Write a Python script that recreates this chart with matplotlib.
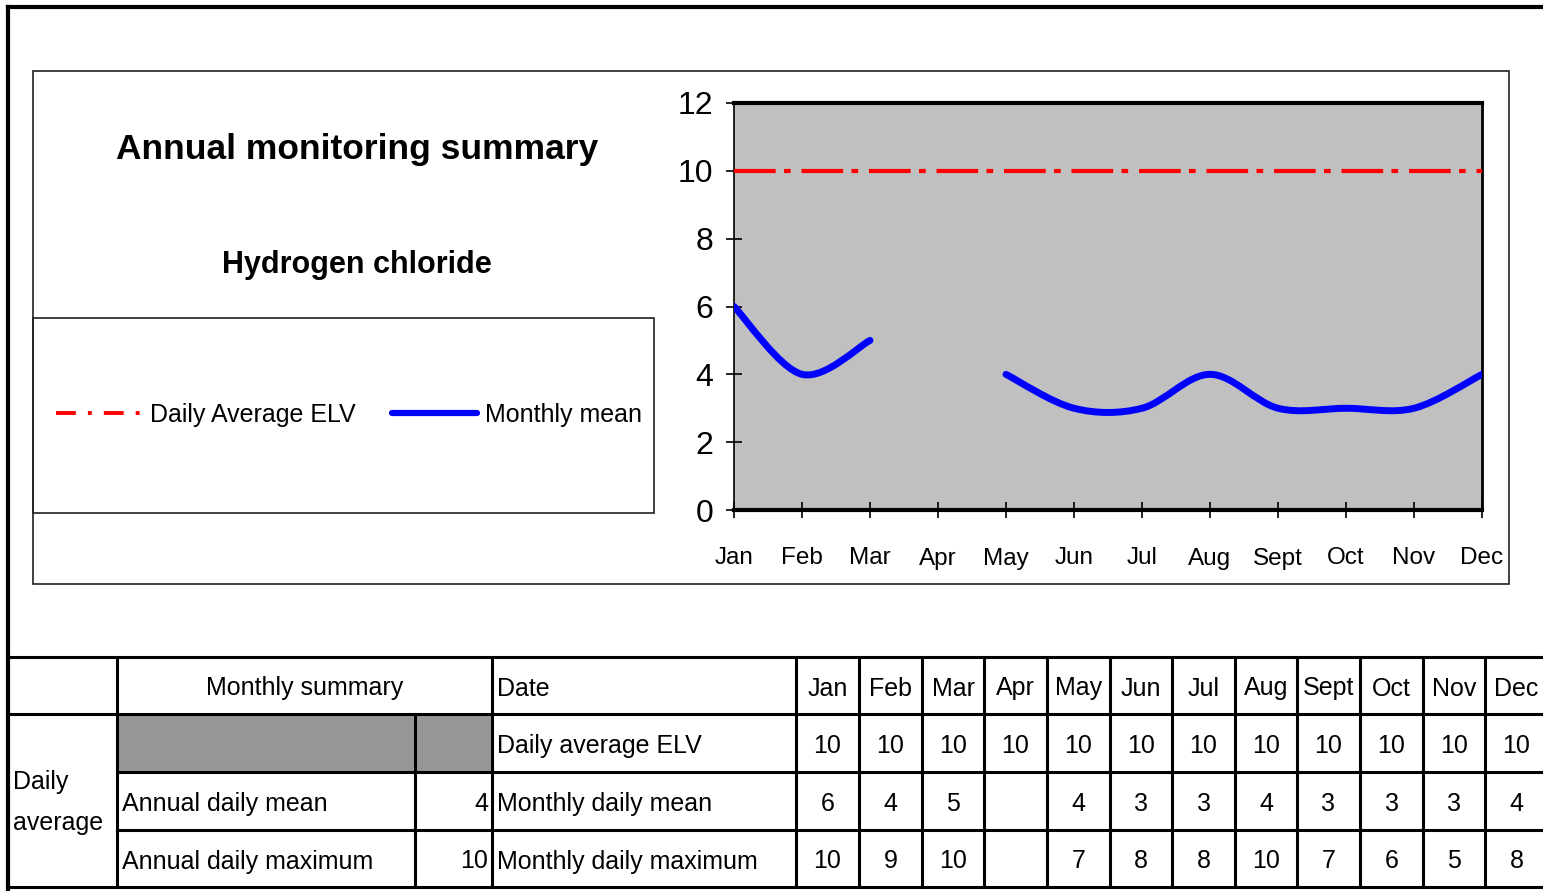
import numpy as np
import matplotlib
matplotlib.use("Agg")
import matplotlib.pyplot as plt
from matplotlib.path import Path
from matplotlib.patches import PathPatch, Rectangle
from matplotlib.lines import Line2D

# Arial-like metrics (no narrow face is installed)
FONT = ['Liberation Sans', 'DejaVu Sans']
plt.rcParams['font.family'] = FONT

# data
months = ['Jan', 'Feb', 'Mar', 'Apr', 'May', 'Jun', 'Jul', 'Aug', 'Sept', 'Oct', 'Nov', 'Dec']
daily_elv = [10, 10, 10, 10, 10, 10, 10, 10, 10, 10, 10, 10]
monthly_mean = [6, 4, 5, np.nan, 4, 3, 3, 4, 3, 3, 3, 4]
monthly_max = [10, 9, 10, np.nan, 7, 8, 8, 10, 7, 6, 5, 8]
annual_daily_mean = 4
annual_daily_max = 10

W, H = 1543, 891
fig = plt.figure(figsize=(W / 100, H / 100), dpi=100)

# background layer in pixel coordinates (frames, titles, table)
bg = fig.add_axes([0, 0, 1, 1])
bg.set_xlim(0, W)
bg.set_ylim(H, 0)
bg.axis('off')


def hline(y, x0, x1, lw=2.2, color='black'):
    bg.plot([x0, x1], [y, y], color=color, lw=lw, solid_capstyle='projecting')


def vline(x, y0, y1, lw=2.2, color='black'):
    bg.plot([x, x], [y0, y1], color=color, lw=lw, solid_capstyle='projecting')


# outer frame
hline(7, 8, W + 5, lw=3.0)
vline(8, 7, H + 5, lw=3.0)

# chart area box and legend box
bg.add_patch(Rectangle((33, 71), 1476, 513, fill=False, lw=1.2, edgecolor='#202020'))
bg.add_patch(Rectangle((33, 318), 621, 195, fill=False, lw=1.2, edgecolor='#202020'))

bg.text(357, 149, 'Annual monitoring summary', ha='center', va='center',
        fontsize=25.5, fontweight='bold')
bg.text(357, 265, 'Hydrogen chloride', ha='center', va='center',
        fontsize=22, fontweight='bold')

# chart
ax = fig.add_axes([734 / W, 1 - 510 / H, 748 / W, 407 / H])
ax.set_facecolor('#C0C0C0')
x = np.arange(len(months))
ax.set_xlim(0, len(months) - 1)
ax.set_ylim(0, 12)
ax.set_yticks(range(0, 13, 2))
ax.set_xticks(x)
ax.set_xticklabels(months)
ax.tick_params(direction='inout', length=12, width=1.2, color='black')
ax.tick_params(axis='y', labelsize=23, pad=9)
ax.tick_params(axis='x', labelsize=17.5, pad=21)
ax.spines['top'].set_linewidth(3)
ax.spines['bottom'].set_linewidth(3)
ax.spines['left'].set_linewidth(1.2)
ax.spines['right'].set_linewidth(2)

ax.plot(x, daily_elv, color='red', lw=3, dashes=(10, 2, 1.6, 2.6), zorder=3)


# smoothed line (Excel style bezier), broken where data is missing
def smooth_path(xs, ys):
    verts = [(xs[0], ys[0])]
    codes = [Path.MOVETO]
    n = len(xs)
    for i in range(n - 1):
        i0 = i - 1 if i > 0 else i
        i3 = i + 2 if i + 2 < n else i + 1
        c1 = (xs[i] + (xs[i + 1] - xs[i0]) / 6, ys[i] + (ys[i + 1] - ys[i0]) / 6)
        c2 = (xs[i + 1] - (xs[i3] - xs[i]) / 6, ys[i + 1] - (ys[i3] - ys[i]) / 6)
        verts += [c1, c2, (xs[i + 1], ys[i + 1])]
        codes += [Path.CURVE4] * 3
    return Path(verts, codes)


def draw_segment(idx):
    if len(idx) > 1:
        ax.add_patch(PathPatch(smooth_path(x[idx], mean_arr[idx]), fill=False,
                               edgecolor='#0000FF', lw=5, capstyle='round',
                               joinstyle='round', zorder=4))


mean_arr = np.array(monthly_mean, dtype=float)
seg = []
for i, v in enumerate(mean_arr):
    if np.isnan(v):
        draw_segment(seg)
        seg = []
    else:
        seg.append(i)
draw_segment(seg)

# legend
handles = [
    Line2D([], [], color='red', lw=2.8, dashes=(5.1, 3.1, 1.0, 3.1)),
    Line2D([], [], color='#0000FF', lw=4.5, solid_capstyle='round'),
]
ax.legend(handles, ['Daily Average ELV', 'Monthly mean'], loc='center left',
          bbox_to_anchor=(56 / W, 1 - 415 / H), bbox_transform=fig.transFigure,
          ncol=2, frameon=False, fontsize=18, handlelength=3.4,
          handletextpad=0.35, columnspacing=1.45, borderpad=0, borderaxespad=0)

# summary table
col_x = [8, 117, 415, 492, 796, 859, 922, 984, 1047, 1110, 1172, 1235, 1297,
         1360, 1423, 1485, 1548]
row_y = [657, 714, 772, 830, 887]
TS = 18

bg.add_patch(Rectangle((117, 714), 375, 58, facecolor='#969696', edgecolor='none'))

hline(row_y[0], 8, W + 5)
hline(row_y[1], 8, W + 5)
hline(row_y[2], 117, W + 5)
hline(row_y[3], 117, W + 5)
hline(row_y[4], 8, W + 5)
vline(117, row_y[0], row_y[4])
vline(415, row_y[1], row_y[4])
for cx in col_x[3:]:
    vline(cx, row_y[0], row_y[4])

# text centres sit a little below the cell middle
mid = [(row_y[i] + row_y[i + 1]) / 2 + 3 for i in range(4)]
bg.text((117 + 492) / 2, mid[0], 'Monthly summary', ha='center', va='center', fontsize=TS)
bg.text(13, (row_y[1] + row_y[4]) / 2 + 2, 'Daily\naverage', ha='left', va='center',
        fontsize=TS, linespacing=1.85)
bg.text(122, mid[2], 'Annual daily mean', ha='left', va='center', fontsize=TS)
bg.text(122, mid[3], 'Annual daily maximum', ha='left', va='center', fontsize=TS)
bg.text(488, mid[2], str(annual_daily_mean), ha='right', va='center', fontsize=TS)
bg.text(488, mid[3], str(annual_daily_max), ha='right', va='center', fontsize=TS)

row_labels = ['Date', 'Daily average ELV', 'Monthly daily mean', 'Monthly daily maximum']
for r, lab in enumerate(row_labels):
    bg.text(497, mid[r], lab, ha='left', va='center', fontsize=TS)


def fmt(v):
    return '' if np.isnan(v) else str(int(v))


for j, m in enumerate(months):
    cx = (col_x[j + 4] + col_x[j + 5]) / 2
    bg.text(cx, mid[0], m, ha='center', va='center', fontsize=TS)
    bg.text(cx, mid[1], fmt(daily_elv[j]), ha='center', va='center', fontsize=TS)
    bg.text(cx, mid[2], fmt(monthly_mean[j]), ha='center', va='center', fontsize=TS)
    bg.text(cx, mid[3], fmt(monthly_max[j]), ha='center', va='center', fontsize=TS)

fig.savefig('out.png', dpi=100)
